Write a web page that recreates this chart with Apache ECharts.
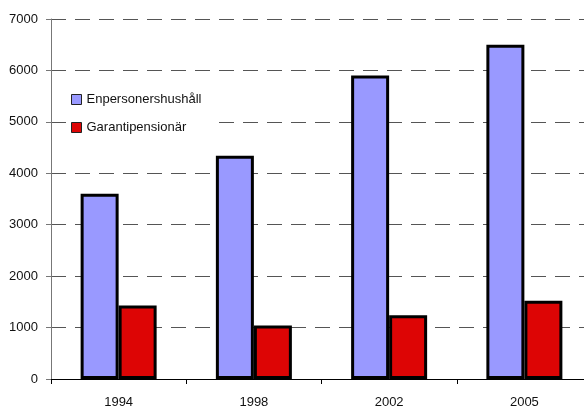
<!DOCTYPE html>
<html>
<head>
<meta charset="utf-8">
<script src="https://cdn.jsdelivr.net/npm/echarts@6/dist/echarts.min.js"></script>
<style>html,body{margin:0;padding:0;background:#fff;overflow:hidden;width:584px;height:411px;}#c{width:592px;height:411px;}</style>
</head>
<body>
<div id="c"></div>
<script>
const categories = ['1994', '1998', '2002', '2005'];
const enpersoner = [3600, 4340, 5900, 6500];
const garanti = [1430, 1040, 1240, 1520];
const seriesNames = ['Enpersonershushåll', 'Garantipensionär'];

const chart = echarts.init(document.getElementById('c'), null, {renderer: 'canvas'});
const font = 'Liberation Sans, Arial, sans-serif';
chart.setOption({
  animation: false,
  backgroundColor: '#ffffff',
  grid: {left: 51, right: 0, top: 19, bottom: 32, containLabel: false},
  legend: {
    orient: 'vertical', left: 66, top: 88, padding: [5, 10, 5, 5],
    backgroundColor: '#ffffff',
    itemWidth: 10, itemHeight: 10, itemGap: 15,
    icon: 'rect',
    itemStyle: {borderWidth: 1, borderColor: '#222'},
    textStyle: {fontFamily: font, fontSize: 13, color: '#111'},
    data: seriesNames
  },
  xAxis: {
    type: 'category', data: categories,
    axisLine: {lineStyle: {color: '#000', width: 1}},
    axisTick: {show: true, length: 5, alignWithLabel: false, lineStyle: {color: '#000'}},
    axisLabel: {fontFamily: font, fontSize: 13, color: '#111', margin: 17}
  },
  yAxis: {
    type: 'value', min: 0, max: 7000, interval: 1000,
    axisLine: {show: true, lineStyle: {color: '#777', width: 1}},
    axisTick: {show: true, length: 5, lineStyle: {color: '#777'}},
    axisLabel: {fontFamily: font, fontSize: 13, color: '#111', margin: 13, formatter: v => String(v)},
    splitLine: {show: true, lineStyle: {color: '#555', width: 1, type: [15, 9]}}
  },
  series: [
    {
      name: seriesNames[0], type: 'bar', data: enpersoner,
      barWidth: 38, barGap: '0%',
      itemStyle: {color: '#9999ff', borderColor: '#000', borderWidth: 3}
    },
    {
      name: seriesNames[1], type: 'bar', data: garanti,
      barWidth: 38,
      itemStyle: {color: '#dd0505', borderColor: '#000', borderWidth: 3}
    }
  ]
});
</script>
</body>
</html>
